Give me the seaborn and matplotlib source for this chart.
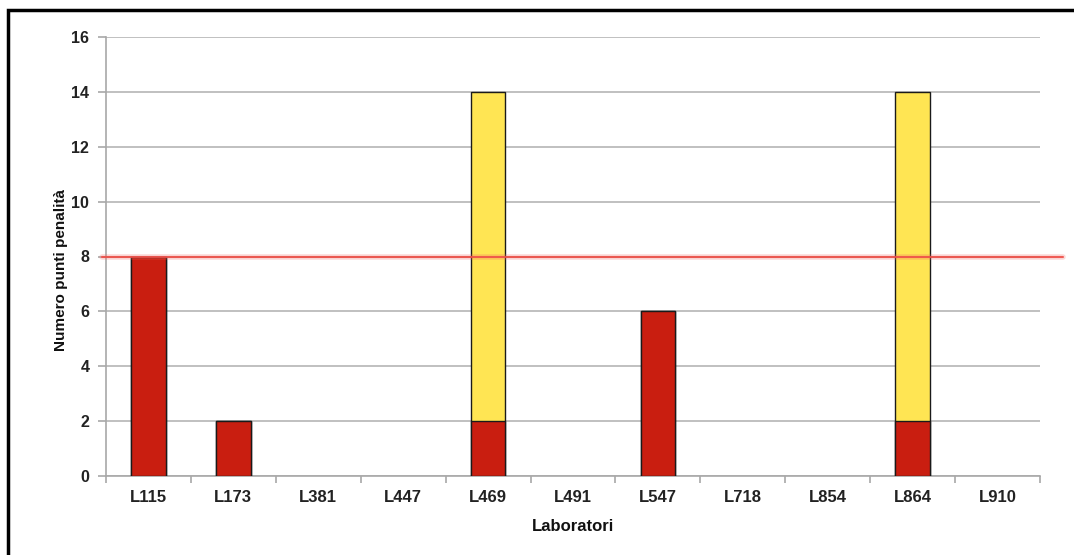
import matplotlib
matplotlib.use("Agg")
import matplotlib.pyplot as plt
import matplotlib.patches as mpatches
import seaborn as sns
import pandas as pd
import numpy as np

# laboratories and penalty points
labs = ["L115", "L173", "L381", "L447", "L469", "L491", "L547", "L718", "L854", "L864", "L910"]
red_points = [8, 2, 0, 0, 2, 0, 6, 0, 0, 2, 0]
yellow_points = [0, 0, 0, 0, 12, 0, 0, 0, 0, 12, 0]
limit = 8

sns.set_theme(style="white")
plt.rcParams['font.family'] = ['Liberation Sans', 'DejaVu Sans']

df = pd.DataFrame({"lab": labs, "red": red_points, "yellow": yellow_points})
df["total"] = df["red"] + df["yellow"]

fig = plt.figure(figsize=(10.74, 5.55), dpi=100)
ax = fig.add_axes([106 / 1074, 1 - 476 / 555, (1040 - 106) / 1074, (476 - 37) / 555])

# yellow stack drawn as the total, red drawn over it
sns.barplot(data=df, x="lab", y="total", color="#FFE553", saturation=1,
            width=0.41, edgecolor="#1a1a1a", linewidth=1.0, ax=ax, zorder=3)
sns.barplot(data=df, x="lab", y="red", color="#C91E10", saturation=1,
            width=0.41, edgecolor="#1a1a1a", linewidth=1.0, ax=ax, zorder=4)
for p in ax.patches:
    if p.get_height() == 0:
        p.set_visible(False)

ax.set_xlim(-0.5, len(labs) - 0.5)
ax.set_ylim(0, 16)
ax.set_yticks(range(0, 17, 2))

# threshold line (soft glow + core)
ax.axhline(limit, xmin=-0.004, xmax=1.025, color="#F06A64", lw=4, alpha=0.25,
           clip_on=False, zorder=5)
ax.axhline(limit, xmin=-0.004, xmax=1.025, color="#EE4F48", lw=1.5, alpha=0.9,
           clip_on=False, zorder=6)

# grid / spines
ax.yaxis.grid(True, color="#B5B5B5", lw=1.2, zorder=0)
ax.set_axisbelow(True)
for s in ["top", "right"]:
    ax.spines[s].set_visible(False)
for s in ["left", "bottom"]:
    ax.spines[s].set_color("#A8A8A8")
    ax.spines[s].set_linewidth(1.2)

ax.tick_params(axis="y", which="major", left=True, length=6, width=1.2, color="#A8A8A8",
               labelsize=11.5, pad=6)
ax.tick_params(axis="x", which="major", bottom=False, labelsize=12, pad=4)
ax.set_xticks(np.arange(-0.5, len(labs) + 0.5, 1), minor=True)
ax.tick_params(axis="x", which="minor", bottom=True, length=5, width=1.2, color="#A8A8A8")
for lbl in ax.get_yticklabels() + ax.get_xticklabels():
    lbl.set_fontweight("bold")
    lbl.set_color("#222222")

ax.set_xlabel("Laboratori", fontsize=12, fontweight="bold", color="#111111", labelpad=10)
ax.set_ylabel("Numero punti penalità", fontsize=11, fontweight="bold", color="#111111")
ax.yaxis.set_label_coords(-0.041, 0.47)

# outer frame
fig.patches.append(mpatches.Rectangle((8 / 1074, -0.1), 1.2, 1 - 10 / 555 + 0.1,
                                      transform=fig.transFigure, fill=False,
                                      edgecolor="black", lw=2.5))

fig.savefig("out.png", dpi=100)
